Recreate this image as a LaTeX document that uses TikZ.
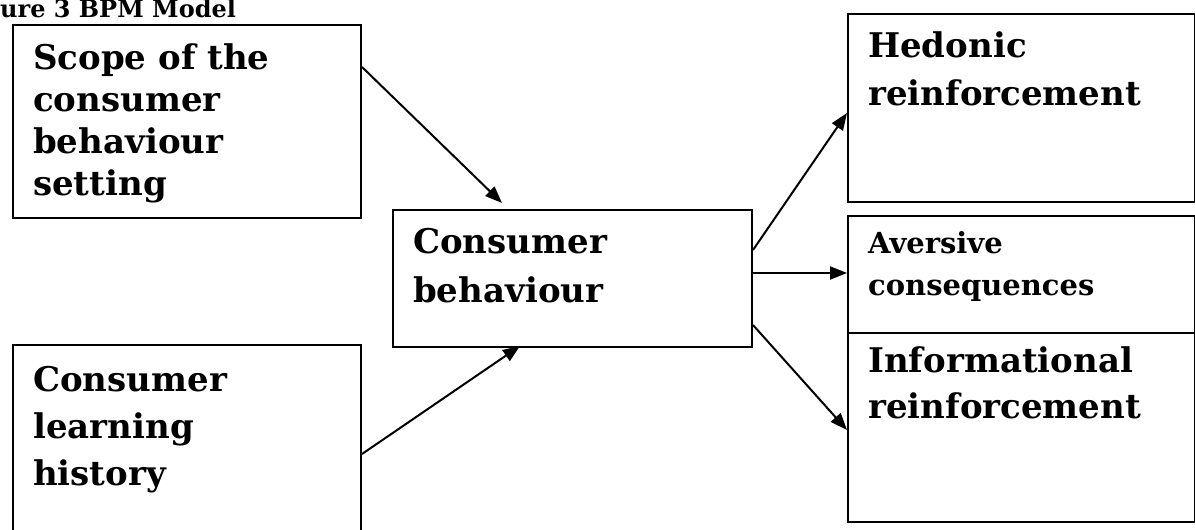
\documentclass[tikz,border=0pt]{standalone}
\usepackage{fontspec}
\setmainfont{DejaVu Serif}
\usepackage{tikz}
\usetikzlibrary{calc}
\usetikzlibrary{positioning}
\usetikzlibrary{arrows.meta}

\tikzset{
	box/.style={draw, line width=2pt, rectangle, inner sep=0pt, anchor=north west},
	lbl/.style={anchor=base west, align=left, inner sep=0pt, font=\bfseries\fontsize{34}{42}\selectfont},
	arr/.style={line width=2pt, -{Triangle[length=17pt,width=13pt]}}
}

\begin{document}
\begin{tikzpicture}[x=1pt, y=-1pt]
					\path[use as bounding box, clip] (0,0) rectangle (1195,530);
					\node[anchor=base west, inner sep=0pt, font=\bfseries\fontsize{24}{28}\selectfont] (title) at (0,17) {ure 3 BPM Model};

					\node[box, minimum width=348pt, minimum height=193pt] (scope) at (12,24) {};
					\node[box, minimum width=348pt, minimum height=200pt] (hist) at (12,344) {};
					\node[box, minimum width=359pt, minimum height=137pt] (cb) at (392,209) {};
					\node[box, minimum width=347pt, minimum height=188pt] (hed) at (847,13) {};
					\node[box, minimum width=347pt, minimum height=117pt] (avers) at (847,215) {};
					\node[box, minimum width=347pt, minimum height=189pt] (info) at (847,332) {};

					\node[lbl] (scopetxt) at (33,195) {Scope of the\\consumer\\behaviour\\setting};
					\node[lbl, font=\bfseries\fontsize{34}{47}\selectfont] (histtxt) at (33,485) {Consumer\\learning\\history};
					\node[lbl, font=\bfseries\fontsize{34}{49}\selectfont] (cbtxt) at (413,302) {Consumer\\behaviour};
					\node[lbl, font=\bfseries\fontsize{34}{48}\selectfont] (hedtxt) at (868,105) {Hedonic\\reinforcement};
					\node[lbl, font=\bfseries\fontsize{29}{42}\selectfont] (averstxt) at (868,295) {Aversive\\consequences};
					\node[lbl, font=\bfseries\fontsize{34}{46}\selectfont] (infotxt) at (868,418) {Informational\\reinforcement};

					\draw[arr] ([yshift=-43pt]scope.north east) -- ([xshift=110pt, yshift=6pt]cb.north west);
					\draw[arr] ([yshift=-110pt]hist.north east) -- ([xshift=128pt, yshift=2pt]cb.south west);
					\draw[arr] ([yshift=-41pt]cb.north east) -- ([yshift=-100pt]hed.north west);
					\draw[arr] ([yshift=-64pt]cb.north east) -- ([yshift=-58pt]avers.north west);
					\draw[arr] ([yshift=-116pt]cb.north east) -- ([yshift=-98pt]info.north west);
\end{tikzpicture}
\end{document}
